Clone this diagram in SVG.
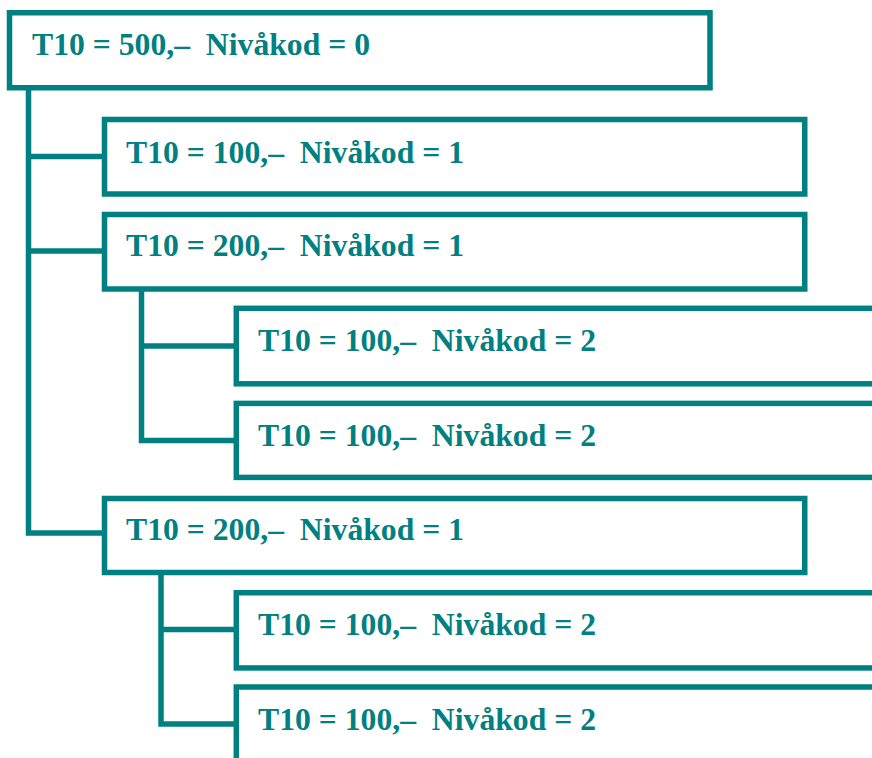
<svg xmlns="http://www.w3.org/2000/svg" width="872" height="758" viewBox="0 0 872 758">
<style>
.box{fill:#ffffff;stroke:#008080;stroke-width:5.5}
.lbl{font-family:"Liberation Serif","Times New Roman",serif;font-weight:bold;font-size:31.7px;fill:#008080;white-space:pre}
.conn{fill:none;stroke:#008080;stroke-width:5.5;stroke-linejoin:miter}
</style>
<rect width="872" height="758" fill="#ffffff"/>
<g id="connectors">
<path class="conn" d="M28.5,90 V533 H104"/>
<path class="conn" d="M28.5,156.5 H104"/>
<path class="conn" d="M28.5,251 H104"/>
<path class="conn" d="M141.5,291 V440.5 H236"/>
<path class="conn" d="M141.5,346 H236"/>
<path class="conn" d="M161,575 V724 H236"/>
<path class="conn" d="M161,629.5 H236"/>
</g>
<g id="n0"><rect class="box" x="9.5" y="12.75" width="700.5" height="75"/><text class="lbl" x="32" y="55" xml:space="preserve">T10 = 500,–  Nivåkod = 0</text></g>
<g id="n1"><rect class="box" x="104.5" y="119.5" width="700.25" height="74.5"/><text class="lbl" x="126" y="163" xml:space="preserve">T10 = 100,–  Nivåkod = 1</text></g>
<g id="n2"><rect class="box" x="104.5" y="214.5" width="700.25" height="74.5"/><text class="lbl" x="126" y="256" xml:space="preserve">T10 = 200,–  Nivåkod = 1</text></g>
<g id="n3"><rect class="box" x="236.3" y="308.3" width="700" height="75.5"/><text class="lbl" x="258" y="350.7" xml:space="preserve">T10 = 100,–  Nivåkod = 2</text></g>
<g id="n4"><rect class="box" x="236.3" y="403.4" width="700" height="74"/><text class="lbl" x="258" y="445.5" xml:space="preserve">T10 = 100,–  Nivåkod = 2</text></g>
<g id="n5"><rect class="box" x="104.5" y="498.5" width="700.25" height="74"/><text class="lbl" x="126" y="540" xml:space="preserve">T10 = 200,–  Nivåkod = 1</text></g>
<g id="n6"><rect class="box" x="236.3" y="592.75" width="700" height="75.2"/><text class="lbl" x="258" y="635" xml:space="preserve">T10 = 100,–  Nivåkod = 2</text></g>
<g id="n7"><rect class="box" x="236.3" y="687" width="700" height="100"/><text class="lbl" x="258" y="729.5" xml:space="preserve">T10 = 100,–  Nivåkod = 2</text></g>
</svg>
